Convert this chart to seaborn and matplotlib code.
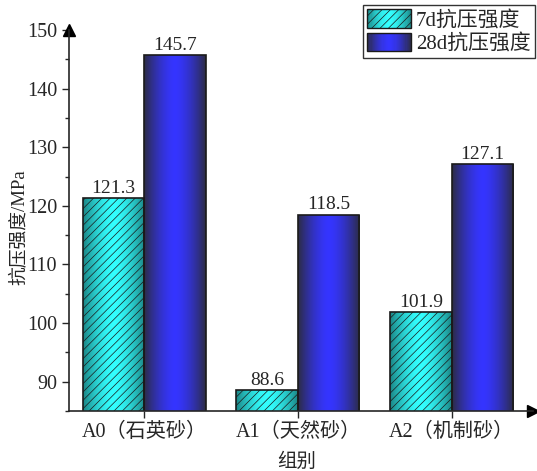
import numpy as np
import pandas as pd
import seaborn as sns
import matplotlib.pyplot as plt
from matplotlib.colors import LinearSegmentedColormap
from matplotlib.legend_handler import HandlerBase
from matplotlib.patches import Rectangle
from matplotlib.ticker import MultipleLocator

# Data ------------------------------------------------------------------------
groups = ['A0（石英砂）', 'A1（天然砂）', 'A2（机制砂）']
series = ['7d抗压强度', '28d抗压强度']
vals_7d = [121.3, 88.6, 101.9]
vals_28d = [145.7, 118.5, 127.1]

df = pd.DataFrame({
    '组别': groups * 2,
    '强度': vals_7d + vals_28d,
    '龄期': [series[0]] * 3 + [series[1]] * 3,
})

# Style -----------------------------------------------------------------------
sns.set_style('ticks')
plt.rcParams['font.family'] = ['Liberation Serif', 'Noto Sans CJK SC']
plt.rcParams['hatch.linewidth'] = 0.5
plt.rcParams['axes.unicode_minus'] = False

grads = [('#1b8585', '#33ffff'), ('#2c2c44', '#3535ff')]
prof = 1 - np.abs(np.linspace(-1, 1, 256)) ** 1.6


def make_cmap(edge, center):
    return LinearSegmentedColormap.from_list('g', [edge, center])


class GradHandler(HandlerBase):
    def __init__(self, edge, center, hatch=None):
        super().__init__()
        self.cmap = make_cmap(edge, center)
        self.hatch = hatch

    def create_artists(self, legend, orig_handle, xdescent, ydescent,
                       width, height, fontsize, trans):
        n = 40
        arts = []
        for i in range(n):
            t = 1 - abs((i + 0.5) / n * 2 - 1) ** 1.6
            arts.append(Rectangle((-xdescent + i * width / n, -ydescent),
                                  width / n + 0.4, height,
                                  facecolor=self.cmap(t), edgecolor='none',
                                  transform=trans))
        arts.append(Rectangle((-xdescent, -ydescent), width, height,
                              facecolor='none', edgecolor='#1a1a1a',
                              hatch=self.hatch, lw=1.0, transform=trans))
        return arts


# Plot ------------------------------------------------------------------------
fig = plt.figure(figsize=(5.37, 4.71), dpi=100)
ax = fig.add_axes([69 / 537, 60 / 471, (533 - 69) / 537, 381 / 471])
sns.barplot(data=df, x='组别', y='强度', hue='龄期', palette=['c', 'b'],
            width=0.8, saturation=1, ax=ax, legend=False)

hatches = ['////', None]
for k, cont in enumerate(ax.containers):
    cmap = make_cmap(*grads[k])
    img = cmap(prof)[np.newaxis, :, :]
    for p in cont.patches:
        x0, w, top = p.get_x(), p.get_width(), p.get_height()
        im = ax.imshow(img, extent=[x0, x0 + w, 85, top], aspect='auto',
                       zorder=1, interpolation='bilinear')
        im.set_clip_path(p)
        p.set_facecolor('none')
        p.set_edgecolor('#1a1a1a')
        p.set_linewidth(1.2)
        p.set_zorder(2)
        if hatches[k]:
            p.set_hatch(hatches[k])
    ax.bar_label(cont, labels=[f'{v:.1f}' for v in cont.datavalues],
                 padding=1, fontsize=14)

ax.set_xlim(-0.49, 2.53)
ax.set_ylim(85, 150)
ax.yaxis.set_major_locator(MultipleLocator(10))
ax.yaxis.set_minor_locator(MultipleLocator(5))
ax.tick_params(axis='y', which='major', direction='out', length=5,
               width=1, labelsize=14.5)
ax.tick_params(axis='y', which='minor', direction='out', length=3, width=1)
ax.tick_params(axis='x', direction='out', length=5, width=1, labelsize=14.5)
ax.set_xlabel('组别', fontsize=14)
ax.set_ylabel('抗压强度/MPa', fontsize=13.5)
ax.xaxis.set_label_coords(0.491, -0.11)
ax.yaxis.set_label_coords(-0.088, 0.483)
for s in ['top', 'right']:
    ax.spines[s].set_visible(False)
for s in ['left', 'bottom']:
    ax.spines[s].set_linewidth(1.2)

# arrows on axes
ax.plot(0, 1, marker='^', color='k', markersize=8, transform=ax.transAxes,
        clip_on=False)
ax.plot(1, 0, marker='>', color='k', markersize=8, transform=ax.transAxes,
        clip_on=False)

# Legend ----------------------------------------------------------------------
h1 = Rectangle((0, 0), 1, 1)
h2 = Rectangle((0, 0), 1, 1)
leg = fig.legend([h1, h2], series, loc='upper right',
                 bbox_to_anchor=(535 / 537, 1 - 5 / 471),
                 handler_map={h1: GradHandler(*grads[0], hatch='////'),
                              h2: GradHandler(*grads[1])},
                 fontsize=15, handlelength=2.1, handleheight=1.0,
                 labelspacing=0.1, borderpad=0.2, handletextpad=0.25,
                 borderaxespad=0, fancybox=False, framealpha=1)
leg.get_frame().set_edgecolor('#333333')
leg.get_frame().set_linewidth(1.0)

fig.savefig('out.png', dpi=100)
